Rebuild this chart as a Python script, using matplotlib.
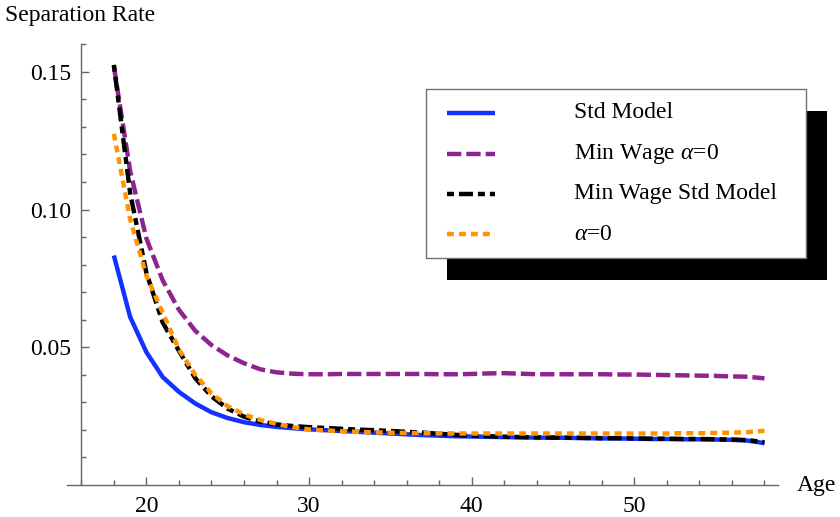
import matplotlib
matplotlib.use("Agg")
import matplotlib.pyplot as plt
from matplotlib.patches import Rectangle
from matplotlib.lines import Line2D

plt.rcParams["font.family"] = ["Liberation Serif", "DejaVu Serif"]
plt.rcParams["mathtext.fontset"] = "custom"
plt.rcParams["mathtext.rm"] = "Liberation Serif"
plt.rcParams["mathtext.it"] = "Liberation Serif:italic"
plt.rcParams["lines.scale_dashes"] = False

ages = [18, 19, 20, 21, 22, 23, 24, 25, 26, 27, 28, 29, 30, 31, 32, 33, 34, 35,
        36, 37, 38, 39, 40, 41, 42, 43, 44, 45, 46, 47, 48, 49, 50, 51, 52, 53,
        54, 55, 56, 57, 58]

std_model = [0.0833, 0.0610, 0.0482, 0.0392, 0.0338, 0.0296, 0.0264, 0.0243,
             0.0228, 0.0218, 0.0211, 0.0206, 0.0202, 0.0199, 0.0196, 0.0193,
             0.0190, 0.0187, 0.0184, 0.0181, 0.0179, 0.0177, 0.0176, 0.0175,
             0.0174, 0.0173, 0.0172, 0.0172, 0.0171, 0.0170, 0.0169, 0.0169,
             0.0168, 0.0167, 0.0167, 0.0166, 0.0166, 0.0165, 0.0164, 0.0161,
             0.0152]

min_wage_alpha0 = [0.1520, 0.1140, 0.0895, 0.0743, 0.0636, 0.0560, 0.0508,
                   0.0470, 0.0442, 0.0420, 0.0409, 0.0404, 0.0402, 0.0402,
                   0.0403, 0.0403, 0.0403, 0.0403, 0.0403, 0.0403, 0.0402,
                   0.0402, 0.0403, 0.0405, 0.0406, 0.0404, 0.0402, 0.0402,
                   0.0402, 0.0402, 0.0402, 0.0401, 0.0401, 0.0400, 0.0399,
                   0.0398, 0.0397, 0.0396, 0.0394, 0.0393, 0.0387]

min_wage_std = [0.1525, 0.1060, 0.0770, 0.0590, 0.0487, 0.0388, 0.0322,
                0.0277, 0.0248, 0.0230, 0.0220, 0.0214, 0.0210, 0.0207,
                0.0204, 0.0201, 0.0199, 0.0196, 0.0193, 0.0190, 0.0186,
                0.0182, 0.0179, 0.0177, 0.0175, 0.0174, 0.0173, 0.0172,
                0.0172, 0.0171, 0.0170, 0.0170, 0.0169, 0.0168, 0.0168,
                0.0167, 0.0167, 0.0166, 0.0165, 0.0163, 0.0155]

alpha0 = [0.1275, 0.0965, 0.0760, 0.0625, 0.0492, 0.0400, 0.0333, 0.0286,
          0.0256, 0.0236, 0.0222, 0.0210, 0.0202, 0.0198, 0.0195, 0.0193,
          0.0191, 0.0190, 0.0189, 0.0188, 0.0188, 0.0187, 0.0187, 0.0187,
          0.0187, 0.0187, 0.0187, 0.0187, 0.0187, 0.0187, 0.0187, 0.0187,
          0.0187, 0.0187, 0.0187, 0.0188, 0.0188, 0.0189, 0.0190, 0.0192,
          0.0197]

series_labels = ["Std Model", r"Min Wage $\alpha$=0", "Min Wage Std Model",
                 r"$\alpha$=0"]

W, H = 840, 517
FS = 17
fig = plt.figure(figsize=(W / 100, H / 100), dpi=100)
ax = fig.add_axes([66.7 / W, 1 - 485 / H, (778.3 - 66.7) / W, (485 - 44.2) / H])

LW = 3.2
styles = [
    dict(color="#1432ff", linestyle="-", solid_capstyle="butt"),
    dict(color="#8f2390", linestyle=(0, (10.3, 3.6)), dash_capstyle="butt"),
    dict(color="#000000", linestyle=(0, (5.0, 3.6, 10.1, 3.6)), dash_capstyle="butt"),
    dict(color="#ff9400", linestyle=(0, (5.0, 3.6)), dash_capstyle="butt"),
]
for ys, st in zip([std_model, min_wage_alpha0, min_wage_std, alpha0], styles):
    ax.plot(ages, ys, lw=LW, **st)

ax.set_xlim(15.1, 58.85)
ax.set_ylim(0, 0.16)
for side in ("top", "right"):
    ax.spines[side].set_visible(False)
ax.spines["left"].set_position(("data", 16))
ax.spines["bottom"].set_position(("data", 0))
axis_gray = "#666666"
for side in ("left", "bottom"):
    ax.spines[side].set_color(axis_gray)
    ax.spines[side].set_linewidth(1.0)

ax.set_xticks([20, 30, 40, 50])
ax.set_xticks([16, 18, 22, 24, 26, 28, 32, 34, 36, 38, 42, 44, 46, 48, 52, 54,
               56, 58], minor=True)
ax.set_yticks([0.05, 0.10, 0.15])
ax.set_yticklabels(["0.05", "0.10", "0.15"])
ax.set_yticks([0.01, 0.02, 0.03, 0.04, 0.06, 0.07, 0.08, 0.09, 0.11, 0.12,
               0.13, 0.14, 0.16], minor=True)
ax.tick_params(which="both", direction="in", color=axis_gray, width=1.0,
               labelsize=FS, labelcolor="black")
ax.tick_params(which="major", length=6)
ax.tick_params(which="minor", length=3.6)
ax.tick_params(axis="y", which="major", pad=7)
ax.tick_params(axis="x", which="major", pad=8)

fig.text(5 / W, 1 - 15 / H, "Separation Rate", fontsize=FS, ha="left",
         va="center")
fig.text(797 / W, 1 - 485 / H, "Age", fontsize=FS, ha="left", va="center")


def fx(px):
    return px / W


def fy(py):
    return 1 - py / H


# legend box with drop shadow
fig.add_artist(Rectangle((fx(446.7), fy(280)), (826.7 - 446.7) / W,
                         (280 - 111) / H, transform=fig.transFigure,
                         facecolor="black", edgecolor="none", zorder=5))
fig.add_artist(Rectangle((fx(426), fy(258.3)), (806 - 426) / W,
                         (258.3 - 89.3) / H, transform=fig.transFigure,
                         facecolor="white", edgecolor="#707070", lw=1.0,
                         zorder=6))
rows = [112.7, 153.7, 194.0, 234.3]
for py, st, lab in zip(rows, styles, series_labels):
    fig.add_artist(Line2D([fx(446.7), fx(495)], [fy(py), fy(py)],
                          transform=fig.transFigure, lw=LW, zorder=7, **st))
    fig.text(fx(574), fy(py), lab, fontsize=FS, ha="left", va="center",
             zorder=7)

fig.savefig("out.png", dpi=100)
